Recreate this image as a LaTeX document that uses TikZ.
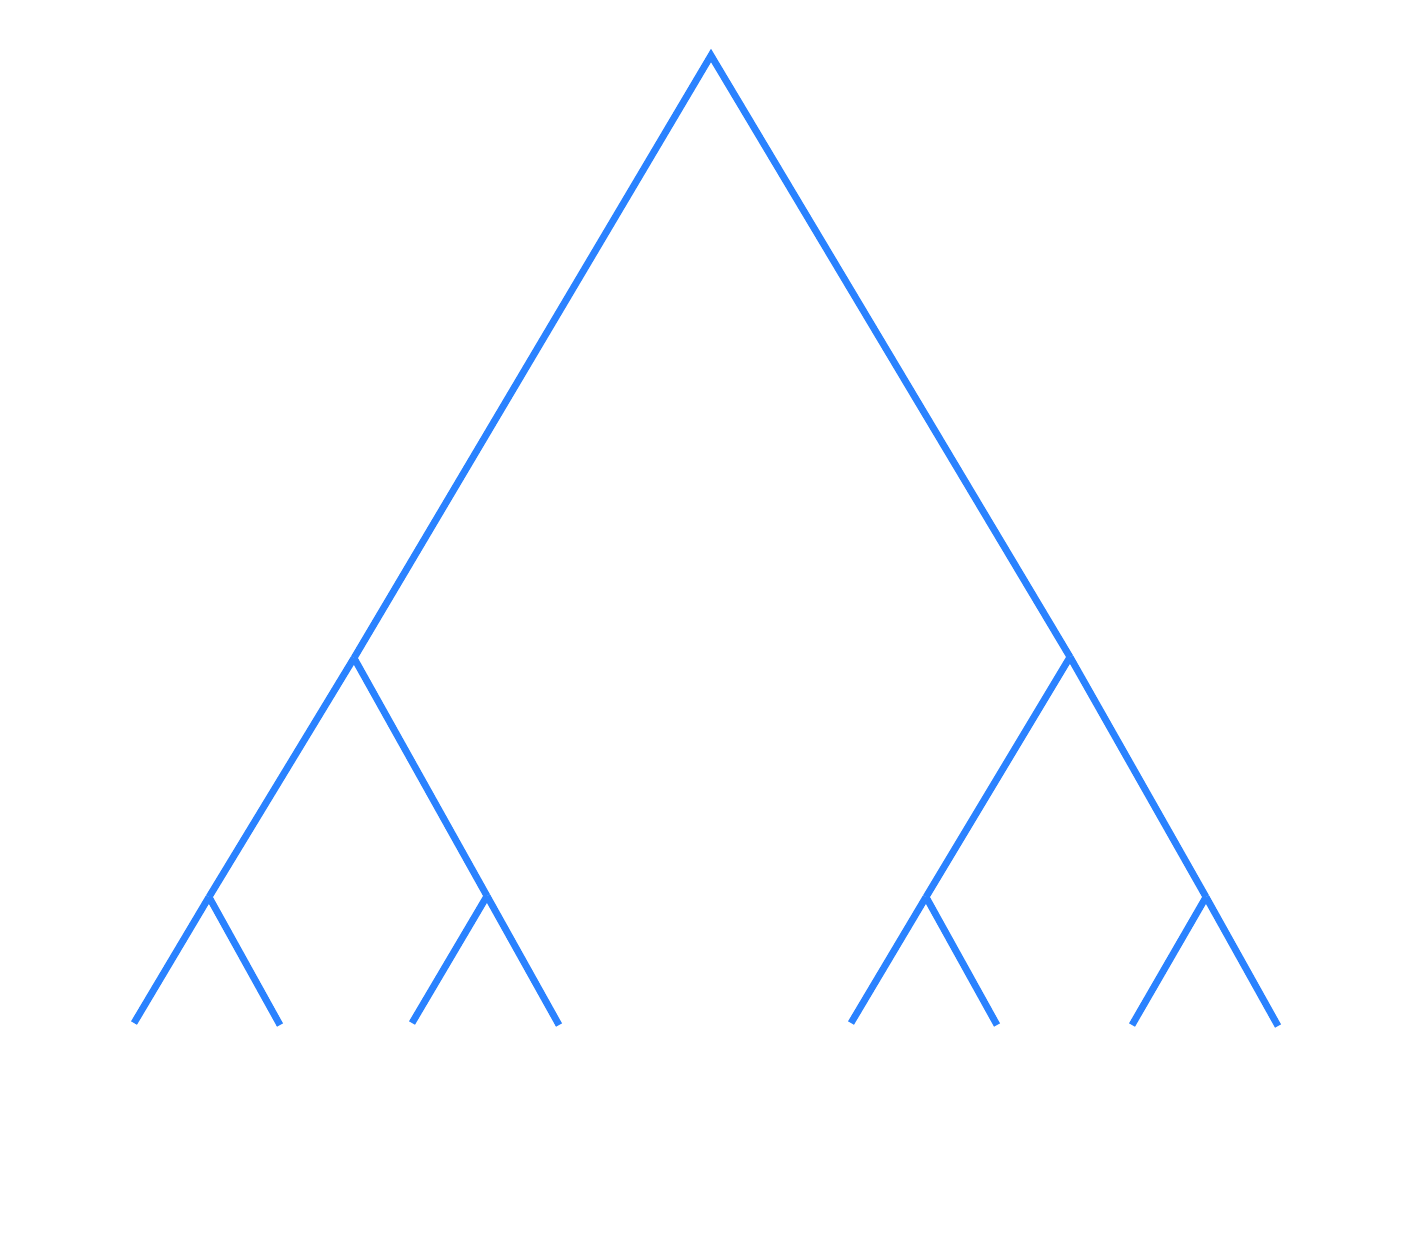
\documentclass[tikz,border=0pt]{standalone}
\usepackage{tikz}
\definecolor{cbranch}{RGB}{42,130,255}

\begin{document}
\begin{tikzpicture}[
  branch/.style={draw=cbranch, line width=3.9pt, line join=miter, line cap=butt}
]
\useasboundingbox (0,0) rectangle (28.38,25.10);

% INNER POINTS
\coordinate (root) at (14.22,23.99);
\coordinate (L) at (7.08,11.94);
\coordinate (R) at (21.40,11.96);
\coordinate (LL) at (4.18,7.16);
\coordinate (LR) at (9.74,7.18);
\coordinate (RL) at (18.52,7.16);
\coordinate (RR) at (24.12,7.16);

% LEAVES
\coordinate (l1) at (2.68,4.64);
\coordinate (l2) at (5.60,4.60);
\coordinate (l3) at (8.24,4.64);
\coordinate (l4) at (11.18,4.60);
\coordinate (l5) at (17.02,4.64);
\coordinate (l6) at (19.94,4.60);
\coordinate (l7) at (22.64,4.60);
\coordinate (l8) at (25.56,4.58);

% BRANCHES
\draw[branch] (L) -- (root) -- (R);
\draw[branch] (L) -- (LL);
\draw[branch] (L) -- (LR);
\draw[branch] (R) -- (RL);
\draw[branch] (R) -- (RR);
\draw[branch] (LL) -- (l1);
\draw[branch] (LL) -- (l2);
\draw[branch] (LR) -- (l3);
\draw[branch] (LR) -- (l4);
\draw[branch] (RL) -- (l5);
\draw[branch] (RL) -- (l6);
\draw[branch] (RR) -- (l7);
\draw[branch] (RR) -- (l8);

\end{tikzpicture}
\end{document}
